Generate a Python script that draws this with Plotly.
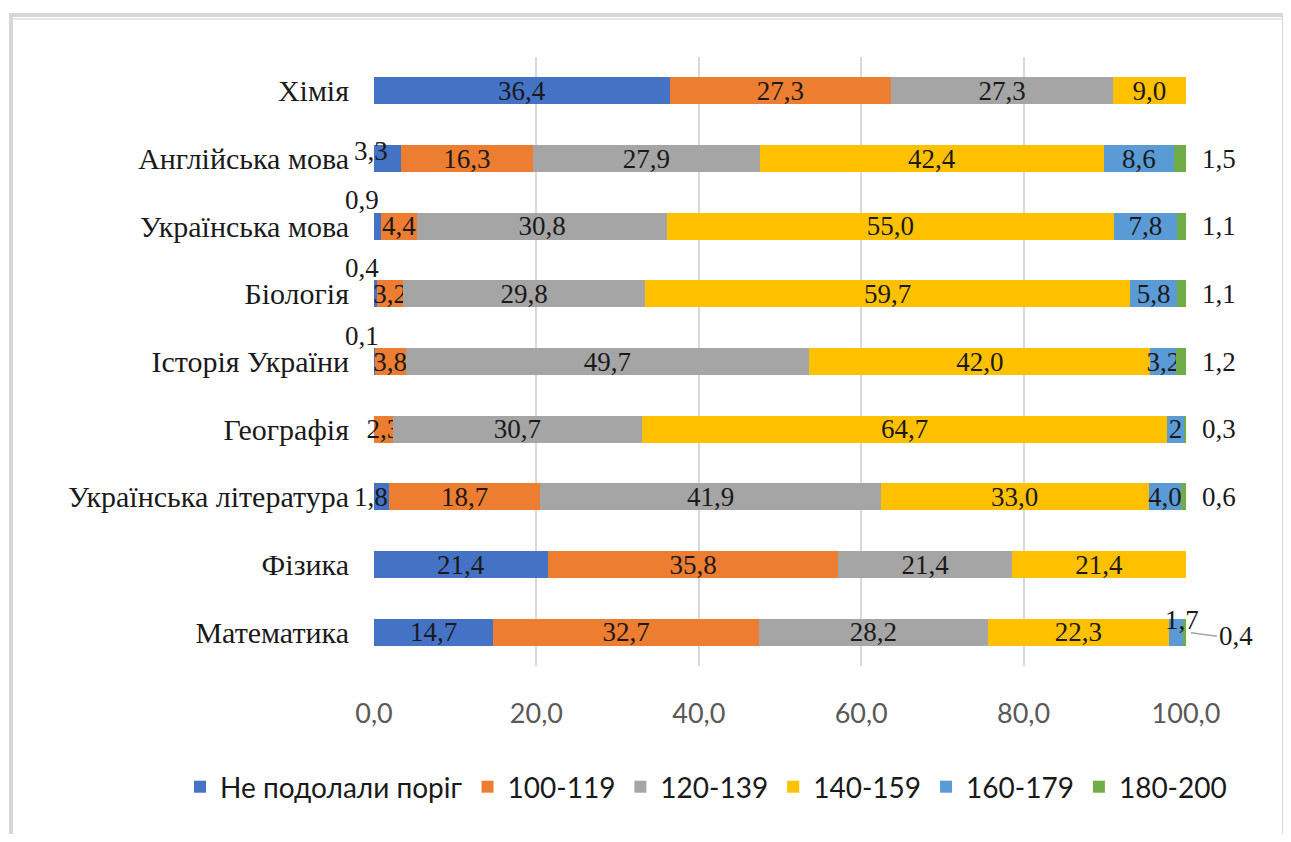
import plotly.graph_objects as go

categories = ["Математика", "Фізика", "Українська література", "Географія",
              "Історія України", "Біологія", "Українська мова", "Англійська мова", "Хімія"]
series_names = ["Не подолали поріг", "100-119", "120-139", "140-159", "160-179", "180-200"]
s_fail = [14.7, 21.4, 1.8, 0, 0.1, 0.4, 0.9, 3.3, 36.4]
s_100 = [32.7, 35.8, 18.7, 2.3, 3.8, 3.2, 4.4, 16.3, 27.3]
s_120 = [28.2, 21.4, 41.9, 30.7, 49.7, 29.8, 30.8, 27.9, 27.3]
s_140 = [22.3, 21.4, 33.0, 64.7, 42.0, 59.7, 55.0, 42.4, 9.0]
s_160 = [1.7, 0, 4.0, 2, 3.2, 5.8, 7.8, 8.6, 0]
s_180 = [0.4, 0, 0.6, 0.3, 1.2, 1.1, 1.1, 1.5, 0]
colors = ["#4472C4", "#ED7D31", "#A5A5A5", "#FFC000", "#5B9BD5", "#70AD47"]
x_ticks = [0, 20, 40, 60, 80, 100]
x_tick_labels = ["0,0", "20,0", "40,0", "60,0", "80,0", "100,0"]

all_series = [s_fail, s_100, s_120, s_140, s_160, s_180]

SERIF = "Liberation Serif, Times New Roman, serif"
SANS = "Lato, Carlito, Calibri, sans-serif"
LBL = 27

# page body has an 8px margin: figure is laid out in its own pixel frame
W, H = 1275, 826
PL, PR, PT, PB = 366, 1178, 49, 658   # plot area in figure pixels


def fmt(v):
    if isinstance(v, int):
        return str(v)
    return f"{v:.1f}".replace(".", ",")


def lblfont():
    return dict(family=SERIF, size=LBL, color="#1a1a1a")


fig = go.Figure()
annotations = []
for si, (name, vals, col) in enumerate(zip(series_names, all_series, colors)):
    texts = []
    for ci, v in enumerate(vals):
        if v == 0:
            texts.append("")
        elif v >= 2 and not (si == 0 and v < 4):
            texts.append(fmt(v))
        else:
            texts.append("")
            left = sum(all_series[k][ci] for k in range(si))
            if si == 0:
                annotations.append(dict(x=0, y=categories[ci], text=fmt(v), showarrow=False,
                                        xanchor="center", yanchor="middle",
                                        xshift=-12 if v < 1 else -3,
                                        yshift=26 if v < 1 else (8 if v > 3 else 0),
                                        font=lblfont()))
            elif si == 5:
                if categories[ci] == "Математика":
                    annotations.append(dict(x=100, y=categories[ci], text=fmt(v), showarrow=True,
                                            arrowhead=0, arrowcolor="#a6a6a6", arrowwidth=1.5,
                                            ax=31, ay=4, standoff=5, xanchor="left",
                                            font=lblfont()))
                else:
                    annotations.append(dict(x=100, y=categories[ci], text=fmt(v), showarrow=False,
                                            xanchor="left", yanchor="middle", xshift=14,
                                            font=lblfont()))
            else:
                annotations.append(dict(x=left + v / 2, y=categories[ci], text=fmt(v), showarrow=False,
                                        xanchor="center", yanchor="middle", xshift=6, yshift=12,
                                        font=lblfont()))
    fig.add_trace(go.Bar(
        y=categories, x=vals, name=name, orientation="h",
        marker=dict(color=col, line=dict(width=0)),
        text=texts, textposition="inside", insidetextanchor="middle",
        textangle=0, constraintext="none", cliponaxis=False,
        textfont=lblfont(),
        hoverinfo="x+y+name",
    ))

pw, ph = PR - PL, PB - PT


def px_x(p):
    return (p - PL) / pw


def px_y(p):
    return (PB - p) / ph


# outer frame (shadowed border)
shapes = [
    dict(type="rect", xref="paper", yref="paper",
         x0=px_x(3), x1=px_x(1276), y0=px_y(828), y1=px_y(7),
         line=dict(color="#d6d6d6", width=4), layer="below"),
    dict(type="line", xref="paper", yref="paper",
         x0=px_x(5), x1=px_x(1274), y0=px_y(11), y1=px_y(11),
         line=dict(color="#e6e6e6", width=2), layer="below"),
]

fig.update_layout(
    barmode="stack",
    bargap=0.6,
    width=W, height=H,
    margin=dict(l=PL, r=W - PR, t=PT, b=H - PB),
    paper_bgcolor="white",
    plot_bgcolor="white",
    showlegend=True,
    legend=dict(orientation="h", x=px_x(172), xanchor="left", y=px_y(779), yanchor="middle",
                font=dict(family=SANS, size=28, color="#1a1a1a"),
                traceorder="normal", itemwidth=30, tracegroupgap=0),
    xaxis=dict(range=[0, 100], tickvals=x_ticks, ticktext=x_tick_labels,
               showgrid=True, gridcolor="#d9d9d9", gridwidth=2,
               zeroline=False, showline=False, ticks="",
               ticklabelstandoff=29,
               tickfont=dict(family=SANS, size=27, color="#595959")),
    yaxis=dict(categoryorder="array", categoryarray=categories,
               showgrid=False, zeroline=False, showline=False, ticks="",
               ticklabelstandoff=24,
               tickfont=dict(family=SERIF, size=30, color="#1a1a1a")),
    annotations=annotations,
    shapes=shapes,
)

fig.write_html("out.html")
